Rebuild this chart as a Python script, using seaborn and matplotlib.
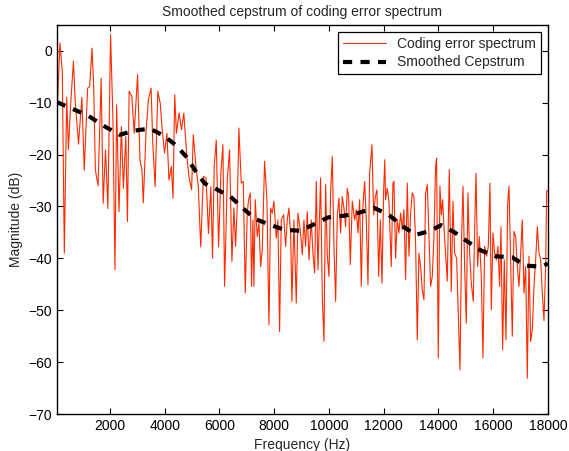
import numpy as np
import pandas as pd
import seaborn as sns
import matplotlib
matplotlib.use("Agg")
import matplotlib.pyplot as plt

# --- data ---
# coding error spectrum (Hz, dB)
spec_freq = [
    64, 175, 261, 335, 422, 483, 570, 668, 730, 853, 976, 1063, 1186, 1260, 1346, 1408,
    1470, 1568, 1680, 1753, 1840, 1926, 2025, 2111, 2185, 2246, 2333, 2419, 2493, 2580,
    2641, 2703, 2801, 2888, 3011, 3097, 3171, 3220, 3319, 3405, 3504, 3566, 3652, 3750,
    3837, 3911, 3997, 4083, 4157, 4244, 4305, 4367, 4429, 4528, 4614, 4700, 4799, 4885,
    4984, 5045, 5144, 5230, 5317, 5415, 5514, 5600, 5687, 5748, 5810, 5884, 5970, 6056,
    6128, 6189, 6286, 6371, 6457, 6530, 6591, 6651, 6712, 6798, 6871, 6944, 7017, 7066,
    7126, 7175, 7224, 7260, 7309, 7382, 7443, 7504, 7565, 7650, 7735, 7809, 7869, 7930,
    7991, 8077, 8137, 8198, 8259, 8344, 8418, 8478, 8539, 8600, 8649, 8722, 8807, 8868,
    8953, 9027, 9087, 9148, 9209, 9270, 9355, 9416, 9477, 9538, 9599, 9696, 9757, 9818,
    9879, 9940, 10001, 10062, 10123, 10184, 10245, 10305, 10366, 10427, 10488, 10549,
    10610, 10671, 10720, 10780, 10853, 10939, 11000, 11061, 11122, 11182, 11243, 11304,
    11365, 11426, 11487, 11572, 11633, 11694, 11755, 11816, 11877, 11938, 11998,
    12040, 12070, 12131, 12192, 12277, 12338, 12374, 12435, 12496, 12557, 12618, 12679,
    12740, 12801, 12862, 12923, 12983, 13044, 13105, 13166, 13227, 13288, 13349, 13410,
    13471, 13532, 13592, 13653, 13714, 13775, 13836, 13897, 13933, 13994, 14055, 14104,
    14153, 14201, 14262, 14323, 14396, 14469, 14530, 14591, 14664, 14713, 14786, 14847,
    14896, 14957, 15017, 15078, 15139, 15200, 15273, 15322, 15371, 15432, 15492, 15566,
    15626, 15687, 15760, 15821, 15882, 15931, 15992, 16053, 16114, 16175, 16235, 16284,
    16345, 16406, 16467, 16528, 16577, 16637, 16698, 16759, 16820, 16881, 16942, 17003,
    17064, 17125, 17186, 17246, 17307, 17368, 17429, 17490, 17551, 17612, 17673, 17733,
    17794, 17855, 17916, 17953, 18000,
]
spec_db = [
    -13, 1.5, -4, -39, -9, -19, -10, -2, -9.5, -18, -9, -23, -7.2, -6.9, 0.5, -6.9,
    -23, -26, -5.3, -29.4, -19.1, -30.4, 3.1, -13.3, -42.2, -10.4, -31, -14.6, -26.5, -16.5,
    -32.9, -7.8, -8.8, -15.9, -4.6, -21, -23, -29.3, -15.6, -9.5, -7.2, -17.8, -26.2, -7.8,
    -10.1, -15.2, -19.7, -15.9, -24.9, -22.3, -28.4, -8.5, -15.9, -12.0, -15.2, -12.0, -19.7, -24.2,
    -26.8, -16.2, -22.3, -26.2, -37.8, -24.2, -24.6, -35.2, -26.2, -40, -22.3, -17.2, -37.8, -23.3,
    -18.1, -45.4, -24.9, -19.1, -40.6, -30.3, -37.7, -30.0, -14.9, -25.5, -25.2, -46.7, -31.3, -28.7,
    -27.4, -45.4, -32.6, -45.4, -28.7, -35.8, -33.2, -41.6, -38.3, -21.3, -28.7, -52.8, -30.3, -31.3,
    -29.0, -36.1, -32.6, -54.1, -32.6, -31.6, -37.7, -32.6, -30.3, -35.1, -48.3, -32.6, -48.6, -31.3,
    -34.5, -39.3, -32.6, -37.7, -31.0, -40.3, -32.6, -39.0, -42.8, -25.2, -42.2, -24.5, -47.3, -56.0,
    -25.8, -39.3, -43.5, -27.1, -20.4, -37.7, -48.3, -31.9, -28.4, -35.1, -28.1, -30.3,
    -33.9, -26.5, -28.1, -41.2, -29.0, -32.6, -30.6, -35.1, -28.7, -45.4, -29.7, -25.2,
    -32.6, -45.1, -23.6, -18.1, -31.6, -28.1, -26.8, -43.5, -32.6, -44.8, -27.1,
    -21.0, -28.7, -26.5, -29.0, -41.6, -25.5, -25.2, -40.0, -32.6, -35.1, -31.3, -34.5,
    -30.6, -44.1, -25.5, -39.6, -31.3, -27.4, -28.1, -37.1, -55.7, -39.0, -41.6, -46.1,
    -48.0, -27.4, -25.8, -35.8, -45.4, -43.5, -35.8, -22.3, -20.7, -59.2, -26.1, -31.6,
    -28.7, -33.9, -39.0, -44.4, -22.9, -46.4, -29.0, -39.0, -40.0, -48.9, -61.5, -35.8,
    -26.1, -41.6, -52.5, -27.4, -39.0, -44.8, -48.3, -34.5, -23.6, -41.6, -35.8, -43.5,
    -59.2, -37.7, -39.6, -37.7, -25.5, -49.9, -35.1, -39.0, -40.3, -37.7, -45.4, -33.9,
    -57.6, -40.3, -55.7, -29.4, -26.1, -40.3, -55.0, -34.8, -35.8, -41.6, -45.4, -39.0,
    -32.6, -46.7, -41.6, -63.1, -39.6, -56.0, -53.8, -45.4, -40.3, -33.9, -39.0, -40.3,
    -46.7, -52.0, -41.6, -27.0, -27.0,
]

# smoothed cepstrum envelope (Hz, dB)
cep_freq = [64, 720, 1200, 1815, 2360, 2886, 3460, 3980, 4430, 4820, 5130, 5470, 5900,
            6400, 6850, 7300, 7830, 8370, 8960, 9470, 9980, 10540, 11110, 11660, 12180,
            12670, 13160, 13700, 14100, 14590, 15070, 15560, 16080, 16690, 17180, 17750, 18000]
cep_db = [-9.9, -11.4, -12.5, -14.6, -16.2, -15.4, -15.0, -16.4, -18.3, -20.6, -23.2, -25.6, -26.7,
          -28.1, -30.3, -32.4, -33.5, -34.5, -34.7, -33.4, -32.1, -31.8, -31.2, -30.3, -31.6,
          -33.7, -35.5, -34.7, -33.6, -35.0, -36.8, -38.5, -39.6, -39.8, -41.4, -41.6, -41.0]

xticks = [2000, 4000, 6000, 8000, 10000, 12000, 14000, 16000, 18000]
yticks = [-70, -60, -50, -40, -30, -20, -10, 0]

df_spec = pd.DataFrame({'freq': spec_freq, 'db': spec_db})
df_cep = pd.DataFrame({'freq': cep_freq, 'db': cep_db})

# --- 画图 ---
sns.set_style("ticks")
plt.rcParams['font.family'] = ['Liberation Sans', 'DejaVu Sans']
plt.rcParams['font.size'] = 10

fig = plt.figure(figsize=(5.69, 4.51), dpi=100)
ax = fig.add_axes([0.100, 0.082, 0.863, 0.863])

sns.lineplot(data=df_spec, x='freq', y='db', ax=ax, color='#ff2a00', lw=0.8,
             estimator=None, label='Coding error spectrum')
sns.lineplot(data=df_cep, x='freq', y='db', ax=ax, color='black', lw=3,
             linestyle=(0, (2.2, 2.0)), estimator=None, label='Smoothed Cepstrum')

ax.set_xlim(64, 18000)
ax.set_ylim(-70, 5)
ax.set_xticks(xticks)
ax.set_yticks(yticks)
ax.set_yticklabels([str(v).replace('-', '\u2212') for v in yticks])
ax.tick_params(direction='in', top=True, right=True, length=4, width=0.8,
               labelsize=10, colors='black')
for s in ax.spines.values():
    s.set_visible(True)
    s.set_color('black')
    s.set_linewidth(1.0)

ax.set_xlabel('Frequency (Hz)', fontsize=10)
ax.set_ylabel('Magnitude (dB)', fontsize=10)
ax.set_title('Smoothed cepstrum of coding error spectrum', fontsize=10)

leg = ax.legend(loc='upper right', fancybox=False, framealpha=1, edgecolor='black',
                handlelength=3.1, fontsize=10, labelspacing=0.35, borderpad=0.35)
leg.get_frame().set_linewidth(0.9)

fig.savefig('out.png', dpi=100)
